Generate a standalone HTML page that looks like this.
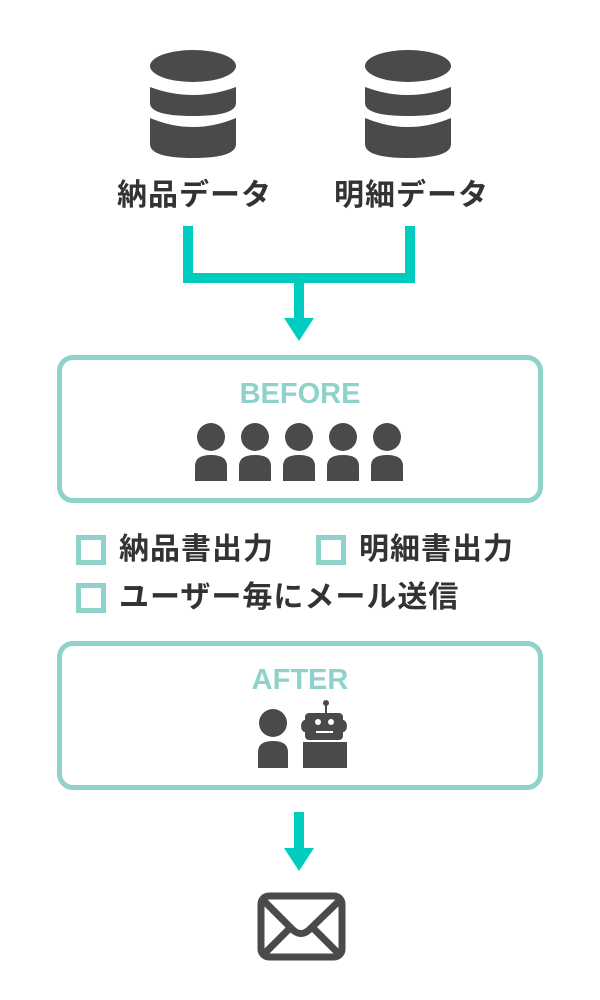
<!DOCTYPE html>
<html><head><meta charset="utf-8"><style>
body{margin:0;width:600px;height:1000px;background:#fff;position:relative;font-family:"Liberation Sans","Noto Sans CJK JP",sans-serif;overflow:hidden}
.t{position:absolute;font-weight:bold;color:#333;font-size:30px;white-space:nowrap;line-height:1;letter-spacing:1px}
.box{position:absolute;left:57px;width:476px;border:5px solid #8ed2cb;border-radius:16px;box-sizing:content-box}
.h{position:absolute;left:0;right:0;text-align:center;font-weight:bold;color:#8ed2cb;font-size:29px}
.cb{position:absolute;width:20px;height:20px;border:5px solid #8ed2cb}
</style></head><body>
<svg width="600" height="1000" style="position:absolute;left:0;top:0">
<g fill="#4a4a4a">
<g id="db">
<ellipse cx="193" cy="66" rx="43" ry="16"/>
<path d="M150 87 Q193 103 236 87 V103 Q236 116 193 116 Q150 116 150 103Z"/>
<path d="M150 118 Q193 136 236 118 V144 Q236 158 193 158 Q150 158 150 144Z"/>
</g>
<use href="#db" x="215"/>
</g>
<g stroke="#00cdbf" stroke-width="10" fill="none">
<path d="M188 226 V278 H410 V226"/>
<path d="M299 278 V320"/>
<path d="M299 812 V850"/>
</g>
<g fill="#00cdbf">
<polygon points="284,318 314,318 299,341"/>
<polygon points="284,848 314,848 299,871"/>
</g>
<g fill="#4a4a4a">
<g id="p"><circle cx="211" cy="437" r="14"/><path d="M195 481 V466 Q195 455 211 455 Q227 455 227 466 V481Z"/></g>
<use href="#p" x="44"/><use href="#p" x="88"/><use href="#p" x="132"/><use href="#p" x="176"/>
<circle cx="273" cy="723" r="14"/><path d="M258 768 V752 Q258 741 273 741 Q288 741 288 752 V768Z"/>
<rect x="305" y="713" width="38" height="27" rx="4"/>
<rect x="303" y="742" width="44" height="26"/>
<rect x="325" y="703" width="2" height="10"/><circle cx="326" cy="703" r="3"/>
<path d="M305 720 a4 6 0 0 0 0 12Z"/><path d="M343 720 a4 6 0 0 1 0 12Z"/>
</g>
<g fill="#fff"><circle cx="318" cy="722" r="3"/><circle cx="331" cy="722" r="3"/><rect x="316" y="731" width="17" height="2"/></g>
<g stroke="#4a4a4a" stroke-width="7" fill="none" stroke-linejoin="round">
<rect x="261" y="896" width="81" height="61" rx="8"/>
<path d="M263 900 L293 930 Q301 937 309 930 L340 900"/>
<path d="M263 955 L290 928 M340 955 L313 928"/>
</g>
</svg>
<div class="t" style="left:117px;top:181px">納品データ</div>
<div class="t" style="left:334px;top:181px">明細データ</div>
<div class="box" style="top:355px;height:138px"><div class="h" style="top:18px">BEFORE</div></div>
<div class="box" style="top:641px;height:139px"><div class="h" style="top:18px">AFTER</div></div>
<div class="cb" style="left:76px;top:535px"></div>
<div class="t" style="left:119px;top:535px">納品書出力</div>
<div class="cb" style="left:316px;top:535px"></div>
<div class="t" style="left:359px;top:535px">明細書出力</div>
<div class="cb" style="left:76px;top:583px"></div>
<div class="t" style="left:119px;top:583px">ユーザー毎にメール送信</div>
</body></html>
